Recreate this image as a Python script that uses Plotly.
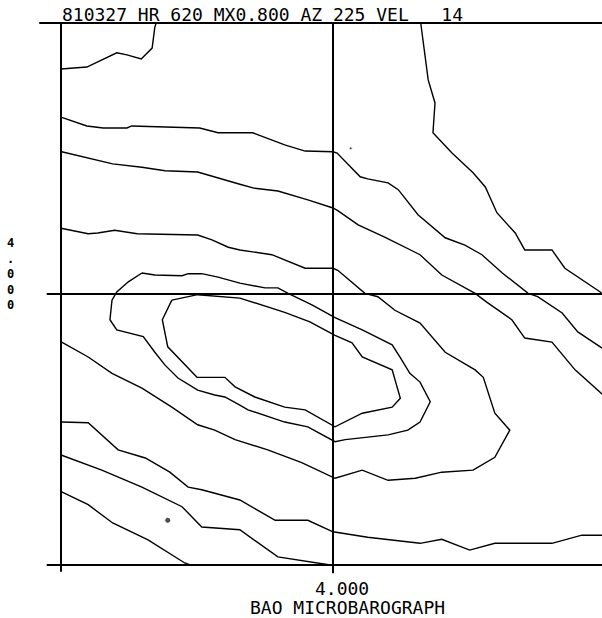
import plotly.graph_objects as go

# ---- contour lines (data units, centre = 4.000) ----
c1_x = [0, 0.38, 0.82, 0.97, 1.18, 1.34, 1.38, 1.40]
c1_y = [7.32, 7.35, 7.56, 7.53, 7.47, 7.63, 7.94, 8.00]

c2_x = [0, .38, .62, .97, 1.04, 1.38, 2.04, 2.31, 2.59, 2.82, 2.90, 3.29, 3.59, 4.00, 4.06,
        4.40, 4.51, 4.81, 4.96, 5.25, 5.65, 5.94, 6.19, 6.49, 6.87, 7.01, 7.37, 7.60, 7.93, 7.96]
c2_y = [6.61, 6.48, 6.45, 6.45, 6.48, 6.47, 6.45, 6.38, 6.38, 6.38, 6.35, 6.20, 6.11, 6.10, 6.08,
        5.73, 5.70, 5.64, 5.54, 5.17, 4.83, 4.72, 4.58, 4.31, 4.01, 3.96, 3.72, 3.44, 3.22, 3.20]

c3_x = [0.01, .40, .76, 1.19, 1.53, 2.01, 2.31, 2.63, 2.85, 3.19, 3.63, 4.00, 4.07, 4.37,
        4.76, 5.06, 5.28, 5.60, 5.94, 6.09, 6.26, 6.63, 6.82, 7.22, 7.56, 7.93, 7.96]
c3_y = [6.10, 6.01, 5.92, 5.87, 5.82, 5.80, 5.71, 5.62, 5.56, 5.52, 5.39, 5.27, 5.23, 5.02,
        4.84, 4.69, 4.58, 4.28, 4.10, 4.01, 3.88, 3.62, 3.35, 3.29, 2.88, 2.55, 2.52]

c4_x = [0, .40, .54, .79, 1.12, 2.01, 2.22, 2.46, 2.63, 3.10, 3.59, 4.00, 4.07, 4.47, 4.66,
        4.91, 5.28, 5.65, 6.09, 6.21, 6.38, 6.60, 6.38, 6.06, 5.60, 5.21, 4.81, 4.43, 4.03,
        3.54, 3.04, 2.56, 2.26, 2.01, 1.63, 1.19, 0.75, 0.40, 0.01]
c4_y = [4.97, 4.89, 4.90, 4.94, 4.89, 4.87, 4.80, 4.69, 4.65, 4.58, 4.38, 4.38, 4.35, 4.01, 3.96,
        3.76, 3.57, 3.14, 2.88, 2.77, 2.24, 1.99, 1.59, 1.40, 1.37, 1.28, 1.25, 1.40, 1.28,
        1.51, 1.70, 1.85, 1.99, 2.07, 2.33, 2.61, 2.83, 3.07, 3.29]

c5_x = [1.19, 1.38, 1.78, 1.87, 2.07, 2.31, 2.63, 3.00, 3.19, 3.34, 3.69, 4.03, 4.43, 4.87,
        4.99, 5.13, 5.28, 5.43, 5.28, 5.10, 4.81, 4.18, 4.03, 3.63, 3.29, 2.75, 2.63, 2.41,
        2.26, 2.01, 1.72, 1.53, 1.38, 1.21, 0.82, 0.72, 0.75, 0.82, 0.99, 1.19]
c5_y = [4.31, 4.28, 4.27, 4.30, 4.30, 4.25, 4.16, 4.09, 4.09, 4.01, 3.84, 3.65, 3.47, 3.25,
        3.06, 2.83, 2.70, 2.41, 2.11, 1.99, 1.92, 1.85, 1.82, 2.04, 2.11, 2.29, 2.36, 2.48,
        2.51, 2.58, 2.76, 2.95, 3.14, 3.37, 3.47, 3.62, 3.91, 4.03, 4.18, 4.31]

c6_x = [1.63, 2.01, 2.63, 2.85, 3.29, 3.66, 4.03, 4.28, 4.43, 4.87, 4.99, 4.87, 4.43, 4.03,
        3.59, 3.29, 2.85, 2.56, 2.41, 2.00, 1.72, 1.57, 1.49, 1.63]
c6_y = [3.91, 3.99, 3.94, 3.87, 3.73, 3.59, 3.39, 3.28, 3.07, 2.88, 2.46, 2.33, 2.24, 2.04,
        2.29, 2.33, 2.48, 2.63, 2.77, 2.77, 3.07, 3.22, 3.62, 3.91]

c7_x = [.01, .40, .84, 1.24, 1.60, 1.87, 2.07, 2.63, 3.15, 3.63, 4.00, 4.51, 5.28, 5.60,
        6.01, 6.38, 7.22, 7.66, 7.96]
c7_y = [2.11, 2.10, 1.70, 1.58, 1.37, 1.15, 1.11, 0.96, 0.66, 0.66, 0.49, 0.41, 0.32, 0.38,
        0.22, 0.32, 0.32, 0.44, 0.44]

c8_x = [.01, .60, 1.19, 1.78, 2.07, 2.63, 3.19, 3.74, 3.96]
c8_y = [1.62, 1.40, 1.15, 0.86, 0.56, 0.52, 0.12, 0.04, 0.00]

c9_x = [.01, .40, .76, 1.28, 1.82, 1.90]
c9_y = [1.08, 0.89, 0.62, 0.37, 0.03, 0.00]

c10_x = [5.29, 5.40, 5.50, 5.47, 5.75, 6.06, 6.24, 6.41, 6.68, 6.82, 7.22, 7.41, 7.93, 7.96]
c10_y = [8.00, 7.16, 6.82, 6.38, 6.08, 5.79, 5.58, 5.20, 4.90, 4.65, 4.65, 4.38, 4.03, 4.00]

dots_x = [1.57, 4.26]
dots_y = [0.66, 6.15]
dots_size = [6, 3]

title_text = "810327 HR 620 MX0.800 AZ 225 VEL   14"
x_label = "BAO MICROBAROGRAPH"
x_tick = "4.000"
y_tick_chars = ["4", ".", "0", "0", "0"]   # drawn stacked, one per line

contours = [(c1_x, c1_y), (c2_x, c2_y), (c3_x, c3_y), (c4_x, c4_y), (c5_x, c5_y),
            (c6_x, c6_y), (c7_x, c7_y), (c8_x, c8_y), (c9_x, c9_y), (c10_x, c10_y)]

fig = go.Figure()
for cx, cy in contours:
    fig.add_trace(go.Scatter(x=cx, y=cy, mode="lines",
                             line=dict(color="black", width=1.4),
                             hoverinfo="skip", showlegend=False))
fig.add_trace(go.Scatter(x=dots_x, y=dots_y, mode="markers",
                         marker=dict(color="black", size=dots_size),
                         hoverinfo="skip", showlegend=False))

LW = 2
shapes = [
    dict(type="line", x0=-0.32, x1=8.2, y0=8, y1=8),      # top / title underline
    dict(type="line", x0=0, x1=0, y0=8, y1=-0.10),        # left axis
    dict(type="line", x0=-0.21, x1=8.2, y0=0, y1=0),      # bottom axis
    dict(type="line", x0=4, x1=4, y0=8, y1=-0.12),        # centre vertical
    dict(type="line", x0=-0.21, x1=8.2, y0=4, y1=4),      # centre horizontal
]
for s in shapes:
    s.update(xref="x", yref="y", line=dict(color="black", width=LW), layer="above")
fig.update_layout(shapes=shapes)

FONT = dict(family="DejaVu Sans Mono", size=18, color="black")
ann = [
    dict(x=2.96, y=8.12, text=title_text, font=FONT),
    dict(x=4.13, y=-0.34, text=x_tick, font=FONT),
    dict(x=4.21, y=-0.63, text=x_label, font=FONT),
    dict(x=-0.74, y=4.30, text="<br>".join(y_tick_chars),
         font=dict(family="DejaVu Sans Mono", size=12, color="black", weight="bold")),
]
for a in ann:
    a.update(xref="x", yref="y", showarrow=False,
             xanchor="center", yanchor="middle")
fig.update_layout(annotations=ann)

fig.update_layout(
    width=602, height=618,
    margin=dict(l=0, r=0, t=0, b=0),
    paper_bgcolor="white", plot_bgcolor="white",
    xaxis=dict(range=[-61/68, 541/68], visible=False, fixedrange=True),
    yaxis=dict(range=[-53/67.75, 565/67.75], visible=False, fixedrange=True),
)

fig.write_html("out.html")
